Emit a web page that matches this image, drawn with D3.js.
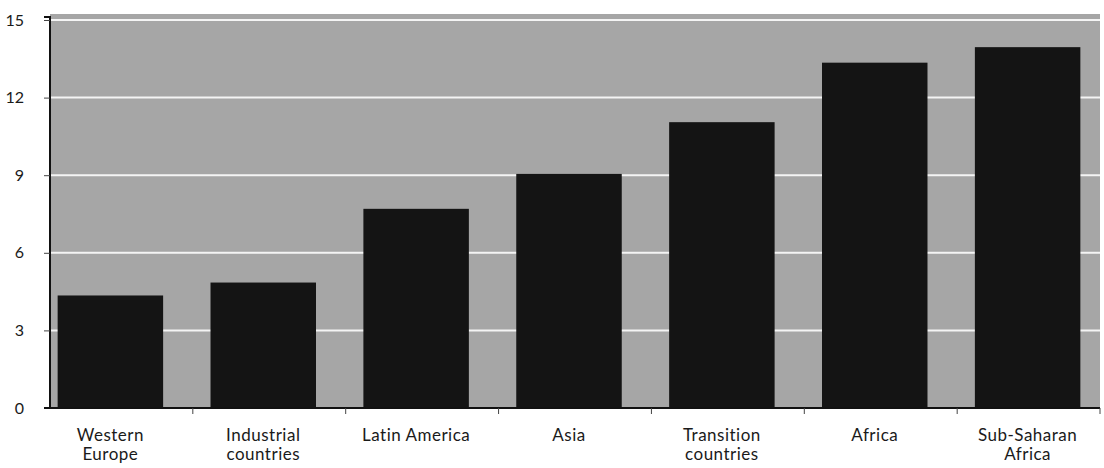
<!DOCTYPE html>
<html>
<head>
<meta charset="utf-8">
<script src="https://cdn.jsdelivr.net/npm/d3@7"></script>
<style>
  body { margin: 0; background: #fff; }
  #chart-area text { font-family: Lato, 'Open Sans', sans-serif; }
</style>
</head>
<body>
<div id="chart-area"></div>
<script>
const categories = [
    ['Western', 'Europe'],
    ['Industrial', 'countries'],
    ['Latin America'],
    ['Asia'],
    ['Transition', 'countries'],
    ['Africa'],
    ['Sub-Saharan', 'Africa']
];
const values = [4.35, 4.85, 7.7, 9.05, 11.05, 13.35, 13.95];
const yTicks = [0, 3, 6, 9, 12, 15];

const W = 1104, H = 468;
const margin = {left: 50, top: 14};
const plotRight = 1100;
const barsRight = 1088;
const plotBottom = 408;

const svg = d3.select('#chart-area')
    .append('svg')
    .attr('width', W)
    .attr('height', H);

const names = categories.map(c => c.join(' '));

const x = d3.scaleBand()
    .domain(names)
    .range([margin.left, barsRight])
    .paddingInner(0.31)
    .paddingOuter(0.05);

const y = d3.scaleLinear()
    .domain([0, 15])
    .range([plotBottom, 20]);

// plot background
svg.append('rect')
    .attr('x', margin.left)
    .attr('y', margin.top)
    .attr('width', plotRight - margin.left)
    .attr('height', plotBottom - margin.top)
    .attr('fill', '#a6a6a6');

// grid lines
svg.append('g')
    .selectAll('line')
    .data(yTicks.filter(d => d > 0))
    .enter()
    .append('line')
        .attr('x1', margin.left)
        .attr('x2', plotRight)
        .attr('y1', d => y(d))
        .attr('y2', d => y(d))
        .attr('stroke', '#f4f4f4')
        .attr('stroke-width', 2);

// bars
svg.append('g')
    .selectAll('rect')
    .data(values)
    .enter()
    .append('rect')
        .attr('x', (d, i) => x(names[i]))
        .attr('y', d => y(d))
        .attr('width', x.bandwidth())
        .attr('height', d => plotBottom - y(d))
        .attr('fill', '#141414');

// y axis
const yAxis = d3.axisLeft(y)
    .tickValues(yTicks)
    .tickSize(6)
    .tickPadding(20);
const yg = svg.append('g')
    .attr('transform', `translate(${margin.left}, 0)`)
    .call(yAxis);
yg.select('.domain').attr('stroke', '#111').attr('stroke-width', 2)
    .attr('d', `M-6,${margin.top + 3}H0V${plotBottom}H-6`);
yg.selectAll('.tick line').attr('stroke', '#444');
yg.selectAll('.tick text')
    .attr('font-size', '16px')
    .attr('fill', '#1a1a1a');

// x axis
svg.append('line')
    .attr('x1', margin.left - 6)
    .attr('x2', plotRight)
    .attr('y1', plotBottom)
    .attr('y2', plotBottom)
    .attr('stroke', '#111')
    .attr('stroke-width', 2);

const step = x.step();
svg.append('g')
    .selectAll('line')
    .data(names)
    .enter()
    .append('line')
        .attr('x1', d => Math.min(x(d) + x.bandwidth() + (step - x.bandwidth()) / 2 + 6, plotRight))
        .attr('x2', d => Math.min(x(d) + x.bandwidth() + (step - x.bandwidth()) / 2 + 6, plotRight))
        .attr('y1', plotBottom)
        .attr('y2', plotBottom + 6)
        .attr('stroke', '#444');

const labels = svg.append('g')
    .selectAll('text')
    .data(categories)
    .enter()
    .append('text')
        .attr('x', (d, i) => x(names[i]) + x.bandwidth() / 2)
        .attr('y', 441)
        .attr('text-anchor', 'middle')
        .attr('font-size', '17px')
        .attr('letter-spacing', '0.5px')
        .attr('fill', '#1a1a1a');

labels.selectAll('tspan')
    .data(d => d)
    .enter()
    .append('tspan')
        .attr('x', function() { return d3.select(this.parentNode).attr('x'); })
        .attr('dy', (d, i) => i === 0 ? 0 : 19)
        .text(d => d);
</script>
</body>
</html>
